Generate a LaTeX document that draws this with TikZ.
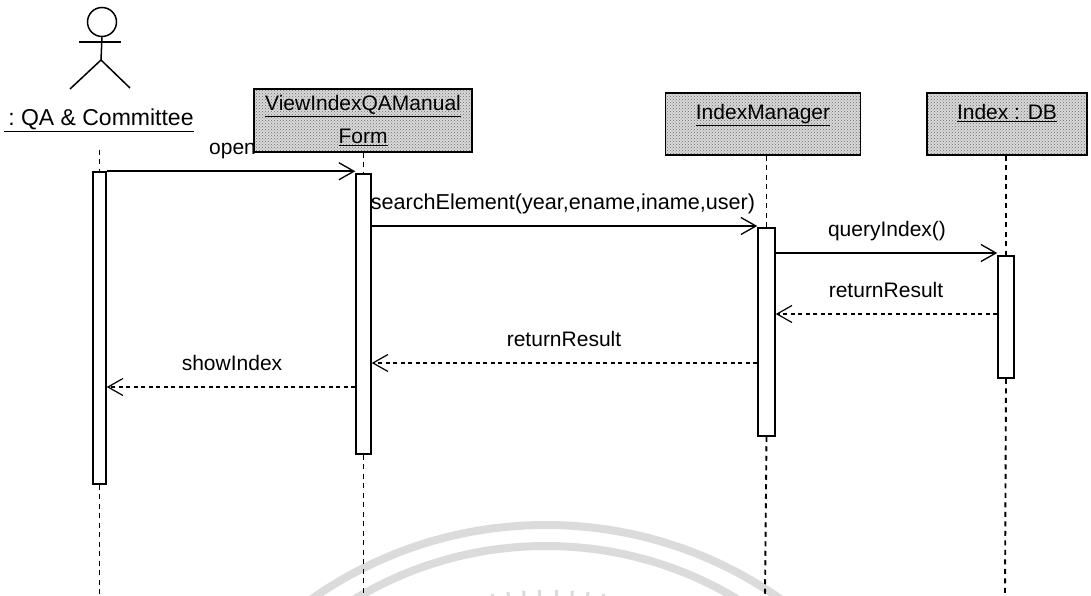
\documentclass[tikz,border=0pt]{standalone}
\usepackage{fontspec}
\setmainfont{Liberation Sans}
\usetikzlibrary{patterns,arrows.meta}
\tikzset{
  objbox/.style={draw=black,line width=1.6pt,preaction={fill=gray!30},pattern=crosshatch dots,pattern color=gray!85!black,
    inner sep=0pt,align=center,font=\fontsize{21}{33}\selectfont},
  act/.style={draw=black,line width=1.5pt,fill=white,minimum width=13pt,inner sep=0pt},
  life/.style={draw=black,line width=1.9pt,dash pattern=on 5pt off 4.5pt},
  call/.style={draw=black,line width=1.6pt,-{Straight Barb[length=15pt,width=17pt,line width=1.3pt]}},
  reply/.style={draw=black,line width=1.4pt,dash pattern=on 4pt off 3.5pt,-{Straight Barb[length=15pt,width=17pt,line width=1.2pt]}},
  lbl/.style={inner sep=0pt,font=\fontsize{21}{24}\selectfont},
  stick/.style={draw=black,line width=1.5pt},
  wm/.style={draw=gray!28,line width=8pt}
}
\begin{document}
\begin{tikzpicture}[x=1pt,y=-1pt]
\useasboundingbox (0,0) rectangle (1091,596);
% watermark
\begin{scope}
\clip (0,0) rectangle (1091,596);
\draw[wm] (546,933) circle[radius=408];
\draw[wm] (546,917) circle[radius=371];
\foreach \a in {-10,-7.8,-5.6,-3.4,-1.2,1.2,3.4,5.6,7.8,10}
  \draw[draw=gray!28,line width=3pt] ({548+sin(\a)*390},{1000-cos(\a)*390}) -- ({548+sin(\a)*410},{1000-cos(\a)*410});
\end{scope}
% actor
\node[circle,draw=black,line width=1.5pt,minimum size=29pt,inner sep=0pt] (head) at (102,22) {};
\coordinate (armL) at (79,42);
\coordinate (armR) at (121,42);
\coordinate (hip) at (101,60);
\coordinate (legL) at (70,89);
\coordinate (legR) at (130,88);
\draw[stick] (head.south) -- (hip);
\draw[stick] (armL) -- (armR);
\draw[stick] (legL) -- (hip) -- (legR);
\node[lbl,font=\fontsize{23}{26}\selectfont] (qa) at (99,120) {\underline{\,:\ QA \& Committee}};
% open label goes under the box
\node[lbl,anchor=west] (openlbl) at (209,151) {open};
% objects
\node[objbox,minimum width=218pt,minimum height=63pt] (form) at (363,120.5) {\underline{ViewIndexQAManual}\\\underline{Form}};
\node[objbox,minimum width=195pt,minimum height=62pt,text depth=24pt] (mgr) at (763,124) {\underline{IndexManager}};
\node[objbox,minimum width=160pt,minimum height=62pt,text depth=24pt] (db) at (1007,124) {\underline{Index : DB}};
% activations
\node[act,minimum height=312pt] (a1) at (99.5,328) {};
\node[act,minimum width=15pt,minimum height=280pt] (a2) at (363.5,314) {};
\node[act,minimum width=17pt,minimum height=208pt] (a3) at (766.5,332) {};
\node[act,minimum width=16pt,minimum height=122pt] (a4) at (1006,317) {};
% ends
\coordinate (e1) at (99.5,596);
\coordinate (e2) at (363.5,596);
\coordinate (e3) at (765,596);
\coordinate (e4) at (1005,596);
\coordinate (s1) at (99.5,150);
% lifelines
\draw[life] (s1) -- (a1.north);
\draw[life] (a1.south) -- (e1);
\draw[life] (form.south -| a2.north) -- (a2.north);
\draw[life] (a2.south) -- (e2);
\draw[life] (mgr.south -| a3.north) -- (a3.north);
\draw[life] (a3.south) -- (e3);
\draw[life] (db.south -| a4.north) -- (a4.north);
\draw[life] (a4.south) -- (e4);
% messages
\draw[call] (a1.north east) -- (a2.west |- a1.north);
\draw[call] (a2.east |- 0,226) -- (a3.west |- 0,226);
\draw[call] (a3.east |- 0,253) -- (a4.west |- 0,253);
\draw[reply] (a4.west |- 0,314) -- (a3.east |- 0,314);
\draw[reply] (a3.west |- 0,363) -- (a2.east |- 0,363);
\draw[reply] (a2.west |- 0,387) -- (a1.east |- 0,387);
% labels
\node[lbl,font=\fontsize{21.6}{24}\selectfont] (l1) at (563,204) {searchElement(year,ename,iname,user)};
\node[lbl] (l2) at (887,231) {queryIndex()};
\node[lbl] (l3) at (886,290) {returnResult};
\node[lbl] (l4) at (564,339) {returnResult};
\node[lbl] (l5) at (232,363) {showIndex};
\end{tikzpicture}
\end{document}
